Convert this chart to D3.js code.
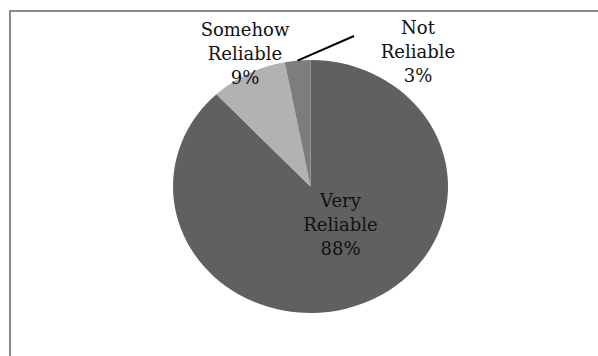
<!DOCTYPE html>
<html>
<head>
<meta charset="utf-8">
<script src="https://cdn.jsdelivr.net/npm/d3@7"></script>
<style>
  html, body { margin: 0; padding: 0; background: #fff; }
  svg { display: block; }
</style>
</head>
<body>
<svg id="chart" width="598" height="356"></svg>
<script>
// Survey answers, in clockwise order from 12 o'clock
const categories = ["Very Reliable", "Somehow Reliable", "Not Reliable"];
const values = [88, 9, 3];
const labelLines = [["Very", "Reliable", "88%"], ["Somehow", "Reliable", "9%"], ["Not", "Reliable", "3%"]];
const sliceColors = ["#606060", "#b2b2b2", "#7d7d7d"];

const svg = d3.select("#chart");

// chart-area frame (runs past the right and bottom edges)
svg.append("rect")
  .attr("x", 10).attr("y", 11)
  .attr("width", 640).attr("height", 400)
  .attr("fill", "none")
  .attr("stroke", "#8a8a8a")
  .attr("stroke-width", 2);

const cx = 310.5, cy = 186.5, rx = 137.5, ry = 126.5;

const pie = d3.pie().sort(null).value(d => d);
const arcs = pie(values);
const arc = d3.arc().innerRadius(0).outerRadius(rx);

// the pie is drawn as a circle then flattened vertically
svg.append("g")
  .attr("transform", `translate(${cx},${cy}) scale(1,${ry / rx})`)
  .selectAll("path")
  .data(arcs)
  .join("path")
  .attr("d", arc)
  .attr("fill", (d, i) => sliceColors[i]);

// leader line for the small slice
const notArc = arcs[2];
const midA = (notArc.startAngle + notArc.endAngle) / 2;
const lx = cx + Math.sin(midA) * rx * 1.0;
const ly = cy - Math.cos(midA) * ry * 1.0;
svg.append("line")
  .attr("x1", lx).attr("y1", ly)
  .attr("x2", 354).attr("y2", 36)
  .attr("stroke", "#000")
  .attr("stroke-width", 2);

// label anchors (centre x, first baseline)
const labelPos = [[340.5, 207], [245, 36], [418, 34]];
const lineStep = 24;

labelLines.forEach((lines, i) => {
  const t = svg.append("text")
    .attr("x", labelPos[i][0])
    .attr("y", labelPos[i][1])
    .attr("text-anchor", "middle")
    .attr("font-family", "'DejaVu Serif', serif")
    .attr("font-size", 18)
    .attr("fill", "#111");
  lines.forEach((s, j) => {
    t.append("tspan")
      .attr("x", labelPos[i][0])
      .attr("y", labelPos[i][1] + j * lineStep)
      .text(s);
  });
});
</script>
</body>
</html>
